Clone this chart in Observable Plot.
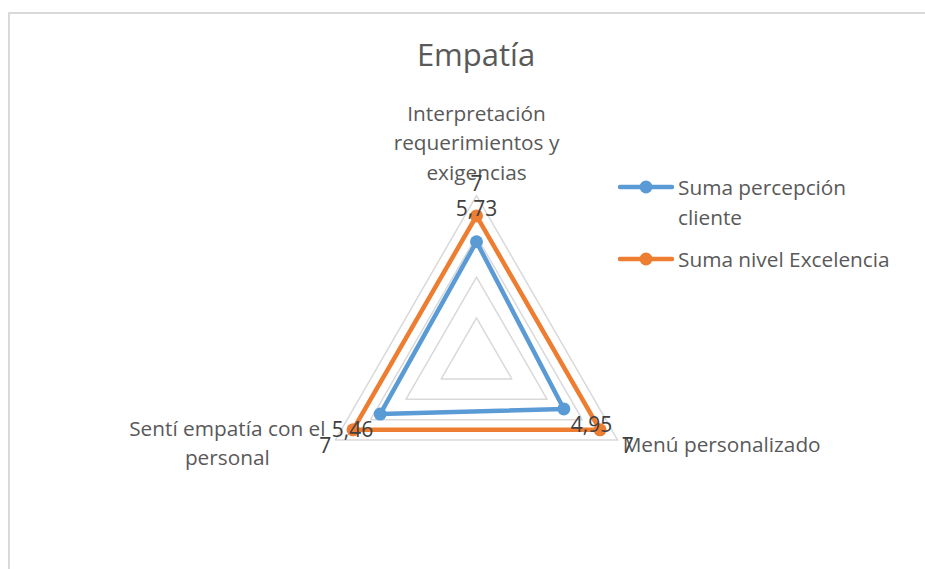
<!DOCTYPE html>
<html>
<head>
<meta charset="utf-8">
<script src="https://cdn.jsdelivr.net/npm/d3@7"></script>
<script src="https://cdn.jsdelivr.net/npm/@observablehq/plot@0.6"></script>
<style>
  html, body { margin: 0; padding: 0; background: #fff; }
  body { width: 925px; height: 569px; overflow: hidden; position: relative; font-family: "Open Sans", sans-serif; }
  #frame { position: absolute; left: 8px; top: 12px; width: 940px; height: 600px; border: 2px solid #d9d9d9; box-sizing: border-box; }
  #chart { position: absolute; left: 0; top: 0; }
  #title { position: absolute; left: 0; width: 952px; top: 33px; text-align: center; font-size: 31px; color: #595959; }
  #legend { position: absolute; left: 618px; top: 172px; font-size: 20.8px; color: #595959; }
  .item { display: flex; align-items: flex-start; margin-bottom: 12px; line-height: 30px; }
  .sw { width: 56px; height: 30px; margin-right: 4px; flex: none; }
</style>
</head>
<body>
<div id="frame"></div>
<div id="chart"></div>
<div id="title">Empatía</div>
<div id="legend"></div>
<script>
// ---- data ----
const categories = ["Interpretación requerimientos y exigencias", "Menú personalizado", "Sentí empatía con el personal"];
const categoryLines = ["Interpretación\nrequerimientos y\nexigencias", "Menú personalizado", "Sentí empatía con el\npersonal"];
const seriesNames = ["Suma percepción cliente", "Suma nivel Excelencia"];
const percepcion = [5.73, 4.95, 5.46];
const excelencia = [7, 7, 7];
const gridLevels = [2, 4, 6, 8];
const colors = ["#5B9BD5", "#ED7D31"];

// ---- geometry helpers ----
const W = 925, H = 569;
const cx = 476, cy = 358, R = 163, rMax = 8;
const unit = R / rMax; // px per unit
const angles = categories.map((_, i) => (i * 2 * Math.PI) / categories.length); // clockwise from top
const px = (r, a) => r * Math.sin(a);
const py = (r, a) => r * Math.cos(a);

const grid = gridLevels.flatMap(l => angles.map((a, i) => ({level: l, x: px(l, a), y: py(l, a), i})));
const seriesValues = [percepcion, excelencia];
const pts = seriesNames.flatMap((s, k) => seriesValues[k].map((v, i) => ({series: s, k, v, i, x: px(v, angles[i]), y: py(v, angles[i])})));
const labOff = 32 / unit;
const labels = pts.map(d => ({...d, lx: px(d.v + labOff, angles[d.i]), ly: py(d.v + labOff, angles[d.i]), text: d3.format(Number.isInteger(d.v) ? "d" : ".2f")(d.v).replace(".", ",")}));
const cats = categoryLines.map((c, i) => ({c, i, x: px(rMax, angles[i]), y: py(rMax, angles[i])}));

const xs = {type: "linear", domain: [-cx / unit, (W - cx) / unit], range: [0, W]};
const ys = {type: "linear", domain: [-(H - cy) / unit, cy / unit], range: [H, 0]};

const fs = 20.8, lh = 29.5 / 20.8;
const chart = Plot.plot({
  width: W, height: H, margin: 0,
  x: {...xs, axis: null}, y: {...ys, axis: null},
  style: {fontFamily: "Open Sans, sans-serif", background: "transparent", overflow: "visible"},
  marks: [
    Plot.line(grid, {x: "x", y: "y", z: "level", curve: "linear-closed", stroke: "#d9d9d9", strokeWidth: 1.5}),
    Plot.line(pts, {x: "x", y: "y", z: "series", curve: "linear-closed", stroke: d => colors[d.k], strokeWidth: 4.5}),
    Plot.dot(pts, {x: "x", y: "y", r: 6.5, fill: d => colors[d.k], stroke: "none"}),
    // category labels
    Plot.text(cats.filter(d => d.i === 0), {x: "x", y: "y", text: "c", lineAnchor: "bottom", dy: -16, fontSize: fs, lineHeight: lh, fill: "#595959"}),
    Plot.text(cats.filter(d => d.i === 1), {x: "x", y: "y", text: "c", textAnchor: "start", dx: 5, dy: 5, fontSize: fs, fill: "#595959"}),
    Plot.text(cats.filter(d => d.i === 2), {x: "x", y: "y", text: "c", textAnchor: "middle", dx: -108, dy: 1, fontSize: fs, lineHeight: lh, fill: "#595959"}),
    // data labels
    Plot.text(labels, {x: "lx", y: "ly", text: "text", fontSize: 21, fill: "#404040"})
  ]
});
document.getElementById("chart").appendChild(chart);

// legend
const legend = document.getElementById("legend");
seriesNames.forEach((s, k) => {
  const item = document.createElement("div");
  item.className = "item";
  const words = s === seriesNames[0] ? "Suma percepción<br>cliente" : s;
  item.innerHTML = `<svg class="sw" viewBox="0 0 56 30"><line x1="2" y1="15" x2="54" y2="15" stroke="${colors[k]}" stroke-width="4.5" stroke-linecap="round"/><circle cx="28" cy="15" r="6.5" fill="${colors[k]}"/></svg><span>${words}</span>`;
  legend.appendChild(item);
});
</script>
</body>
</html>
